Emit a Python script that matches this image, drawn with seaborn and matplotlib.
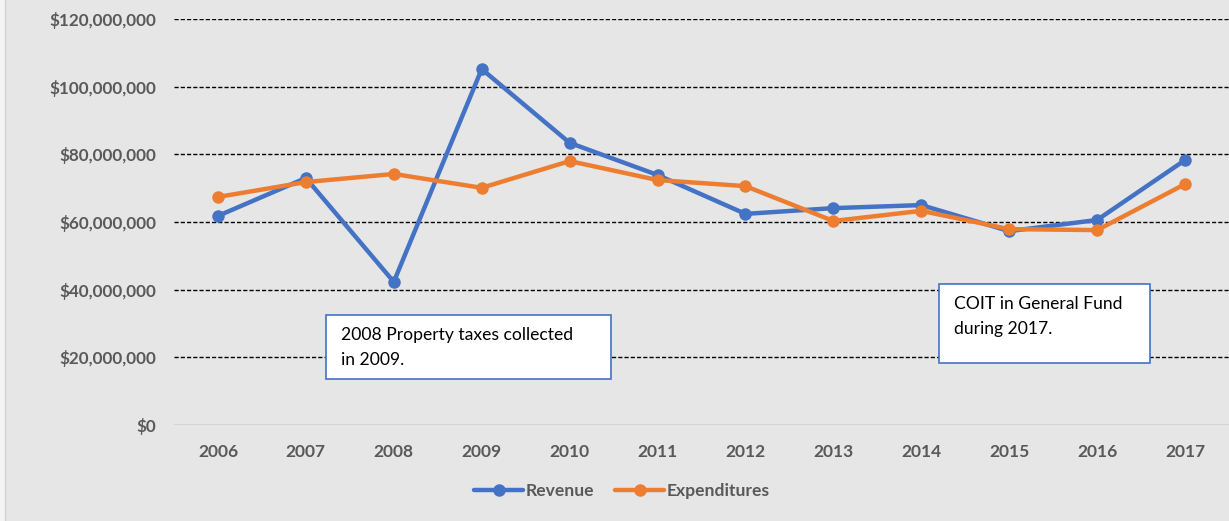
import numpy as np
import pandas as pd
import seaborn as sns
import matplotlib.pyplot as plt
from matplotlib.patches import Rectangle
from matplotlib.lines import Line2D
from matplotlib.ticker import FuncFormatter

years = ['2006', '2007', '2008', '2009', '2010', '2011', '2012', '2013', '2014', '2015', '2016', '2017']
revenue = [61.8, 73.0, 42.3, 105.2, 83.4, 73.9, 62.4, 64.1, 65.0, 57.3, 60.6, 78.3]
expenditures = [67.4, 71.8, 74.2, 70.1, 78.0, 72.4, 70.6, 60.3, 63.3, 57.9, 57.6, 71.2]
series = ['Revenue', 'Expenditures']
colors = ['#4472C4', '#ED7D31']

df = pd.DataFrame({
    'year': years * 2,
    'value': [v * 1e6 for v in revenue + expenditures],
    'series': [series[0]] * len(years) + [series[1]] * len(years),
})

sns.set_style('white')
plt.rcParams['font.family'] = ['Lato', 'DejaVu Sans']

bg = '#e6e6e6'
W, H = 1229, 521
fig = plt.figure(figsize=(W / 100, H / 100), dpi=100, facecolor=bg)
ax = fig.add_axes([174 / W, (H - 425) / H, (W - 174) / W, (425 - 19) / H])
ax.set_facecolor(bg)

sns.lineplot(data=df, x='year', y='value', hue='series', palette=colors,
             marker='o', markersize=9, markeredgewidth=0, linewidth=3.2,
             sort=False, legend=False, ax=ax, zorder=3)

ax.set_ylim(0, 120e6)
ax.set_xlim(-0.5, len(years) - 0.5)
ax.set_yticks(np.arange(0, 121e6, 20e6))
ax.yaxis.set_major_formatter(FuncFormatter(lambda v, p: '${:,.0f}'.format(v)))
for yv in np.arange(20e6, 121e6, 20e6):
    ax.axhline(yv, color='black', linestyle=(0, (3, 1.5)), linewidth=1, zorder=1)
ax.axhline(0, color='#d4d4d4', linewidth=1.5, zorder=1)

for s in ax.spines.values():
    s.set_visible(False)
ax.tick_params(axis='y', length=0, labelsize=12.3, labelcolor='#595959', pad=13)
ax.tick_params(axis='x', length=0, labelsize=12.5, labelcolor='#595959', pad=14)
for lab in ax.get_xticklabels() + ax.get_yticklabels():
    lab.set_fontweight('bold')
ax.set_xlabel('')
ax.set_ylabel('')

# annotation boxes
def note(x0, y0, x1, y1, text):
    fig.add_artist(Rectangle((x0 / W, 1 - y1 / H), (x1 - x0) / W, (y1 - y0) / H,
                             transform=fig.transFigure, facecolor='white',
                             edgecolor='#4472C4', linewidth=1.2, zorder=5))
    fig.text((x0 + 15) / W, 1 - (y0 + 12) / H, text, ha='left', va='top',
             fontsize=12.6, color='black', linespacing=1.7, zorder=6)

note(326, 315, 611, 379, '2008 Property taxes collected\nin 2009.')
note(939, 284, 1150, 363, 'COIT in General Fund\nduring 2017.')

handles = [Line2D([], [], color=c, marker='o', markersize=9, markeredgewidth=0, linewidth=3.2)
           for c in colors]
leg = fig.legend(handles, series, loc='center', bbox_to_anchor=(622 / W, 1 - 491 / H),
                 ncol=2, frameon=False, handlelength=2.8, handletextpad=0.15,
                 columnspacing=1.2, prop={'size': 12.6, 'weight': 'bold'})
for t in leg.get_texts():
    t.set_color('#595959')

# thin left edge of the chart area
fig.add_artist(Rectangle((0, 0), 5 / W, 1, transform=fig.transFigure,
                         facecolor='#f4f4f4', edgecolor='none'))
fig.add_artist(Line2D([5 / W, 5 / W], [0, 1], transform=fig.transFigure,
                      color='#d0d0d0', linewidth=1))

fig.savefig('out.png', dpi=100, facecolor=bg)
